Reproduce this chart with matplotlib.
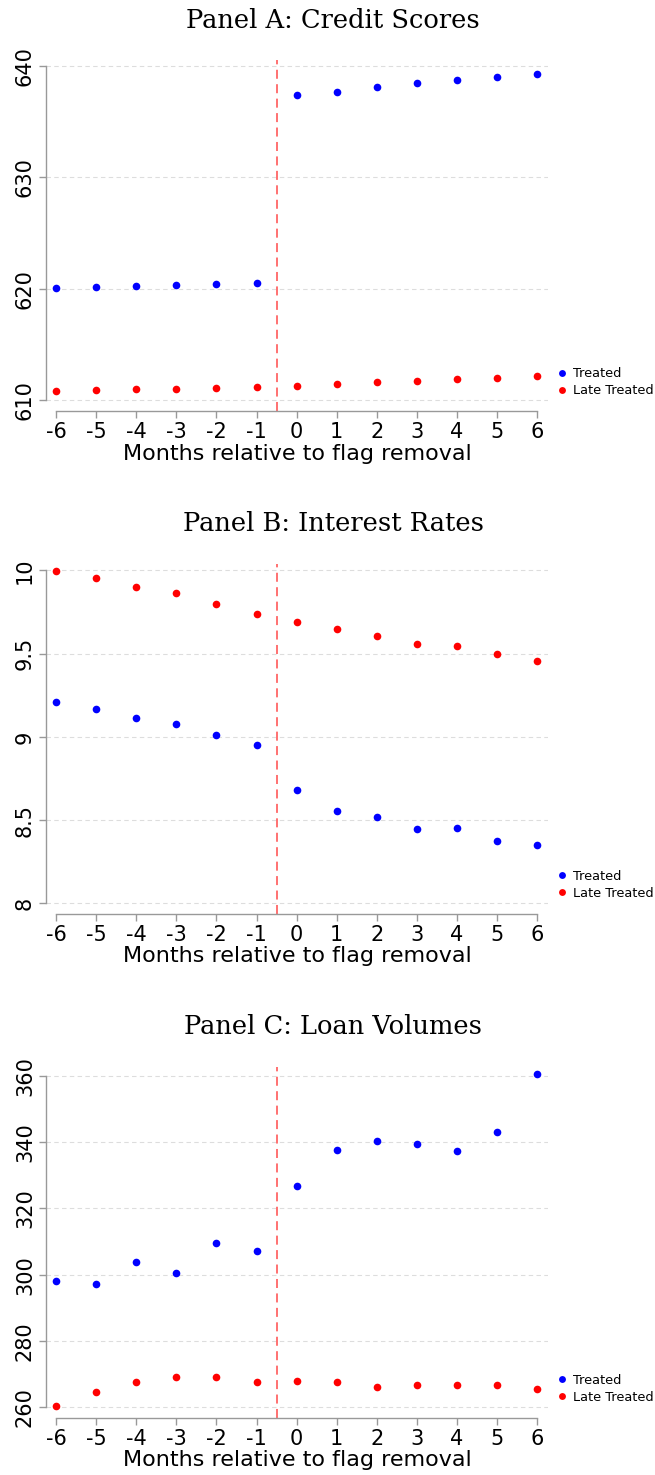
import matplotlib
matplotlib.use("Agg")
from matplotlib import pyplot as plt

months = [-6, -5, -4, -3, -2, -1, 0, 1, 2, 3, 4, 5, 6]

credit_treated = [620.1, 620.2, 620.3, 620.35, 620.47, 620.56,
                  637.43, 637.67, 638.12, 638.44, 638.77, 638.98, 639.28]
credit_late = [610.8, 610.89, 610.98, 611.04, 611.1, 611.19,
               611.31, 611.49, 611.64, 611.76, 611.88, 612.03, 612.18]

rate_treated = [9.21, 9.168, 9.114, 9.08, 9.012, 8.948,
                8.682, 8.556, 8.516, 8.448, 8.45, 8.372, 8.35]
rate_late = [9.994, 9.952, 9.90, 9.866, 9.80, 9.74,
             9.692, 9.65, 9.606, 9.556, 9.548, 9.50, 9.458]

volume_treated = [298.1, 297.3, 303.7, 300.6, 309.4, 307.1,
                  326.7, 337.6, 340.2, 339.5, 337.4, 343.0, 360.6]
volume_late = [260.4, 264.6, 267.7, 269.0, 269.0, 267.6,
               268.0, 267.6, 266.2, 266.6, 266.6, 266.6, 265.4]

titles = ["Panel A: Credit Scores", "Panel B: Interest Rates", "Panel C: Loan Volumes"]
yticks = [[610, 620, 630, 640], [8, 8.5, 9, 9.5, 10], [260, 280, 300, 320, 340, 360]]
yticklabels = [["610", "620", "630", "640"], ["8", "8.5", "9", "9.5", "10"],
               ["260", "280", "300", "320", "340", "360"]]
ylims = [(609.04, 640.54), (7.939, 10.038), (256.86, 362.7)]
series = [(credit_treated, credit_late), (rate_treated, rate_late),
          (volume_treated, volume_late)]

W, H = 655, 1475
fig = plt.figure(figsize=(W / 100, H / 100), dpi=100)

# pixel boxes: (top, bottom) of each plot region, title y
boxes = [(60, 411, 20), (564, 913.5, 524), (1066.7, 1417.7, 1027)]
left, right = 46, 548
axis_gray = "#999999"

for i, (top, bottom, ty) in enumerate(boxes):
    ax = fig.add_axes([left / W, 1 - bottom / H, (right - left) / W, (bottom - top) / H])
    treated, late = series[i]
    ax.plot(months, treated, "o", color="#0000FF", ms=5.5, mec="none", label="Treated")
    ax.plot(months, late, "o", color="#FF0000", ms=5.5, mec="none", label="Late Treated")
    ax.axvline(-0.5, color="#FF6666", ls=(0, (5, 3)), lw=1.3)
    for yv in yticks[i]:
        ax.axhline(yv, color="#DDDDDD", ls=(0, (4, 3)), lw=0.8, zorder=0)
    ax.set_xlim(-6.25, 6.27)
    ax.set_ylim(*ylims[i])
    ax.set_xticks(months)
    ax.set_xticklabels([str(m) for m in months], fontsize=15)
    ax.set_yticks(yticks[i])
    ax.set_yticklabels(yticklabels[i], fontsize=15, rotation=90, va="center")
    for s in ["top", "right"]:
        ax.spines[s].set_visible(False)
    ax.spines["left"].set_bounds(yticks[i][0], yticks[i][-1])
    ax.spines["bottom"].set_bounds(-6, 6)
    for s in ["left", "bottom"]:
        ax.spines[s].set_color(axis_gray)
        ax.spines[s].set_linewidth(1.0)
    ax.tick_params(axis="both", colors=axis_gray, labelcolor="black", length=5, width=1.0, pad=3)
    ax.set_xlabel("Months relative to flag removal", fontsize=16, labelpad=1)
    ax.legend(loc="center left", bbox_to_anchor=(1.0, 0.082), frameon=False,
              fontsize=9.3, handlelength=0.8, handletextpad=0.45, labelspacing=0.3,
              borderaxespad=0.3, markerscale=0.9)
    fig.text(333 / W, 1 - ty / H, titles[i], ha="center", va="center",
             fontsize=18.5, family="DejaVu Serif")

fig.savefig("out.png", dpi=100)
